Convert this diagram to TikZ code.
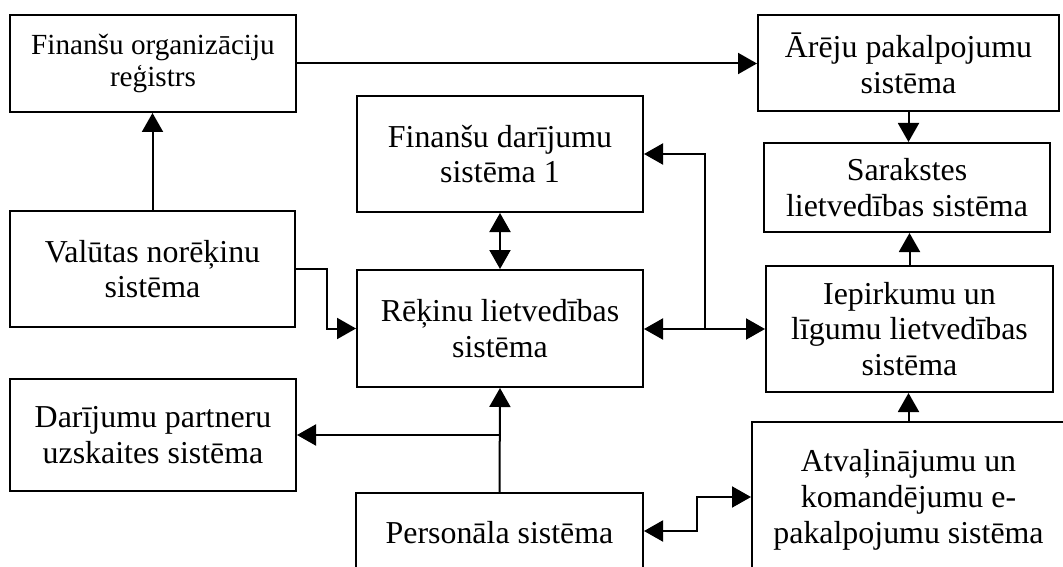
\documentclass[tikz,border=0pt]{standalone}
\usepackage{fontspec}
\setmainfont{Liberation Serif}
\usetikzlibrary{arrows.meta}
\tikzset{
  box/.style={draw, line width=2pt, inner sep=0pt, align=center,
    font=\fontsize{31.9}{35.7}\selectfont},
  arr/.style={line width=2pt, -{Triangle[length=19pt,width=21pt]}},
  arrtwo/.style={line width=2pt, {Triangle[length=19pt,width=21pt]}-{Triangle[length=19pt,width=21pt]}},
}
\begin{document}
\begin{tikzpicture}[x=1pt,y=-1pt]
\useasboundingbox (0,0) rectangle (1063,567);
\node[box, minimum width=286pt, minimum height=97pt, font=\fontsize{29.2}{32.6}\selectfont] (FOR) at (153,63.5) {Finanšu organizāciju\\reģistrs};
\node[box, minimum width=285pt, minimum height=116pt] (VAL) at (152.5,269) {Valūtas norēķinu\\sistēma};
\node[box, minimum width=286pt, minimum height=116pt] (FD) at (500,154) {Finanšu darījumu\\sistēma 1};
\node[box, minimum width=286pt, minimum height=117pt] (RL) at (500,328.5) {Rēķinu lietvedības\\sistēma};
\node[box, minimum width=286pt, minimum height=112pt] (DP) at (153,435) {Darījumu partneru\\uzskaites sistēma};
\node[box, minimum width=287pt, minimum height=80pt] (PS) at (499.5,533) {Personāla sistēma};
\node[box, minimum width=301pt, minimum height=96pt] (AP) at (908.5,63) {Ārēju pakalpojumu\\sistēma};
\node[box, minimum width=286pt, minimum height=89pt] (SL) at (907,187.5) {Sarakstes\\lietvedības sistēma};
\node[box, minimum width=287pt, minimum height=126pt] (IL) at (909.5,329) {Iepirkumu un\\līgumu lietvedības\\sistēma};
\node[box, minimum width=313pt, minimum height=156pt] (AT) at (908.5,500) {Atvaļinājumu un\\komandējumu e-\\pakalpojumu sistēma};

\coordinate (jn) at (705,329);
\coordinate (k1) at (697,531);
\coordinate (k2) at (697,497);

\draw[arr] (VAL.north) -- (VAL.north |- FOR.south);
\draw[arr] (FOR.east) -- (FOR.east -| AP.west);
\draw[arrtwo] (FD.south) -- (RL.north);
\draw[arr] (AP.south) -- (AP.south |- SL.north);
\draw[arr] (IL.north) -- (IL.north |- SL.south);
\draw[arr] (AT.north) -- (AT.north |- IL.south);
\draw[arr] (VAL.east) -- ++(31,0) |- (RL.west);
\draw[arrtwo] (RL.east |- IL.west) -- (IL.west);
\draw[arr] (jn) |- (FD.east);
\draw[arr] (PS.north) -- (RL.south);
\draw[arr] (PS.north |- DP.east) -- (DP.east);
\draw[arrtwo] (PS.east |- k1) -- (k1) -- (k2) -- (k2 -| AT.west);
\end{tikzpicture}
\end{document}
